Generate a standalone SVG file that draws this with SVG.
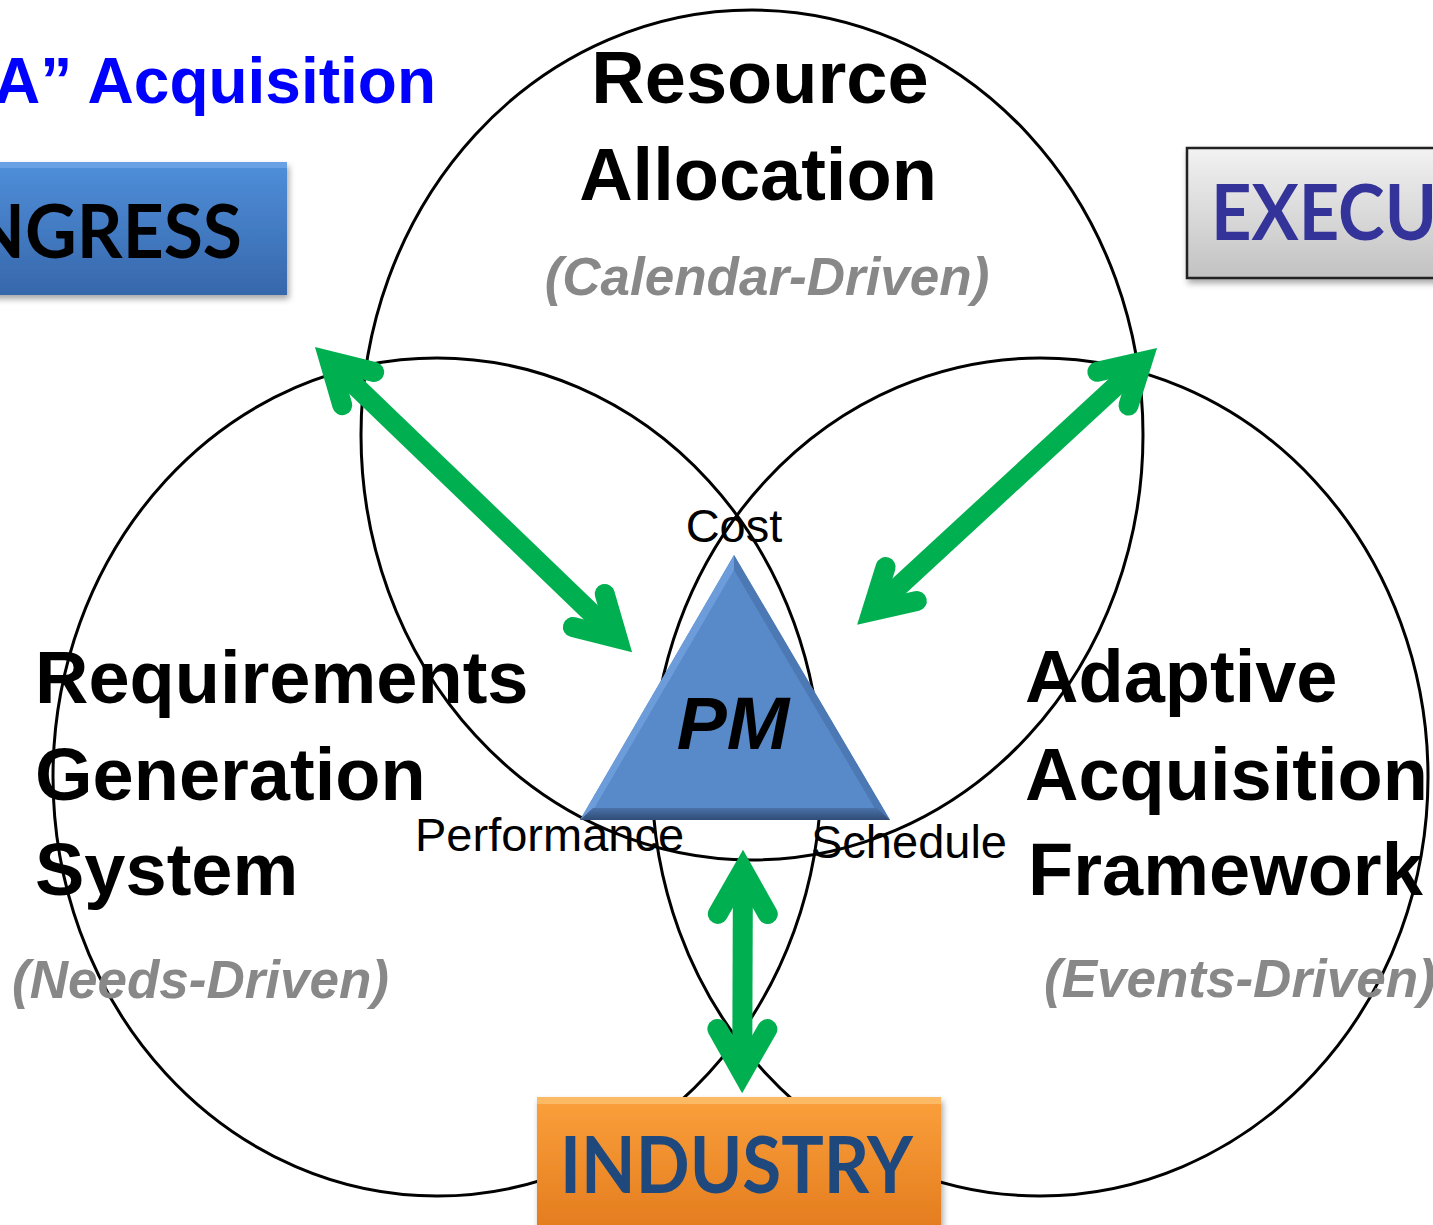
<svg xmlns="http://www.w3.org/2000/svg" width="1433" height="1225" viewBox="0 0 1433 1225">
<defs>
<linearGradient id="gBlue" x1="0" y1="0" x2="0" y2="1">
<stop offset="0" stop-color="#4F8FDA"/>
<stop offset="1" stop-color="#3767AB"/>
</linearGradient>
<linearGradient id="gGray" x1="0" y1="0" x2="0" y2="1">
<stop offset="0" stop-color="#F2F2F2"/>
<stop offset="1" stop-color="#C2C2C2"/>
</linearGradient>
<linearGradient id="gOrange" x1="0" y1="0" x2="0" y2="1">
<stop offset="0" stop-color="#FBA03C"/>
<stop offset="1" stop-color="#E27A1C"/>
</linearGradient>
<linearGradient id="gBottom" x1="0" y1="0" x2="0" y2="1">
<stop offset="0" stop-color="#4A72A8"/>
<stop offset="1" stop-color="#2F4C75"/>
</linearGradient>
<filter id="shadow" x="-10%" y="-10%" width="130%" height="140%">
<feDropShadow dx="2" dy="4" stdDeviation="3" flood-color="#000" flood-opacity="0.35"/>
</filter>
</defs>
<style>
.ring{fill:none;stroke:#000;stroke-width:3}
.head{fill:none;stroke:#00B050;stroke-width:20;stroke-linecap:round;stroke-linejoin:miter;stroke-miterlimit:6}
.shaft{fill:none;stroke:#00B050;stroke-width:20;stroke-linecap:butt}
.big{font-family:"Liberation Sans",Arial,sans-serif;font-weight:bold;font-size:74px;fill:#000}
.sub{font-family:"Liberation Sans",Arial,sans-serif;font-weight:bold;font-style:italic;font-size:53px;fill:#888}
.small{font-family:"Liberation Sans",Arial,sans-serif;font-size:47px;fill:#000}
.boxtxt{font-family:Lato,"Open Sans",sans-serif;font-weight:bold}
</style>

<g id="title">
<text x="436" y="103" text-anchor="end" font-family="Liberation Sans, Arial, sans-serif" font-weight="bold" font-size="64" fill="#0000FF">A” Acquisition</text>
</g>

<g id="congress">
<rect x="-10" y="162" width="297" height="133" fill="url(#gBlue)" filter="url(#shadow)"/>
<rect x="-10" y="162" width="297" height="6" fill="#6FA6E6" opacity="0.8"/>
<text class="boxtxt" x="-30" y="258" font-size="74" fill="#000" textLength="272" lengthAdjust="spacingAndGlyphs">NGRESS</text>
</g>

<g id="executive">
<rect x="1187" y="148" width="262" height="130" fill="url(#gGray)" stroke="#222" stroke-width="2.5" filter="url(#shadow)"/>
<text class="boxtxt" x="1211" y="240" font-size="76" fill="#333399" textLength="226" lengthAdjust="spacingAndGlyphs">EXECU</text>
</g>

<g id="circles">
<ellipse id="resource-circle" class="ring" cx="752" cy="435" rx="391" ry="425"/>
<ellipse id="requirements-circle" class="ring" cx="437" cy="777" rx="384" ry="419"/>
<ellipse id="adaptive-circle" class="ring" cx="1040" cy="777" rx="388" ry="419"/>
</g>

<g id="resource-allocation">
<text class="big" x="760" y="103" text-anchor="middle">Resource</text>
<text class="big" x="758" y="200" text-anchor="middle">Allocation</text>
<text class="sub" x="767" y="295" text-anchor="middle">(Calendar-Driven)</text>
</g>

<g id="requirements">
<text class="big" x="35" y="703">Requirements</text>
<text class="big" x="35" y="800">Generation</text>
<text class="big" x="35" y="895">System</text>
<text class="sub" x="12" y="998">(Needs-Driven)</text>
</g>

<g id="adaptive">
<text class="big" x="1025" y="702">Adaptive</text>
<text class="big" x="1025" y="800">Acquisition</text>
<text class="big" x="1028" y="895">Framework</text>
<text class="sub" x="1044" y="997">(Events-Driven)</text>
</g>

<g id="pm">
<polygon points="734,555 580,820 890,820" fill="#5889C9"/>
<polygon points="734,555 580,820 592,812 734,570" fill="#6C9CDA"/>
<polygon points="734,555 734,570 877,812 890,820" fill="#4C79B4"/>
<polygon points="580,820 890,820 877,808 593,808" fill="url(#gBottom)"/>
<text x="733" y="749" text-anchor="middle" font-family="Liberation Sans, Arial, sans-serif" font-weight="bold" font-style="italic" font-size="75" fill="#000">PM</text>
</g>

<g id="pm-labels">
<text class="small" x="734" y="542" text-anchor="middle">Cost</text>
<text class="small" x="415" y="851">Performance</text>
<text class="small" x="811" y="858">Schedule</text>
</g>

<g id="connectors">
<g transform="translate(315,347) rotate(43.9)">
<path class="shaft" d="M20,0 H420"/>
<path class="head" d="M60,-23 L20,0 L60,23"/>
<path class="head" d="M380,-23 L420,0 L380,23"/>
</g>
<g transform="translate(1157,348) rotate(137.3)">
<path class="shaft" d="M20,0 H388"/>
<path class="head" d="M60,-23 L20,0 L60,23"/>
<path class="head" d="M348,-23 L388,0 L348,23"/>
</g>
<g transform="translate(743,850) rotate(90.2)">
<path class="shaft" d="M20,0 H223" stroke-width="18"/>
<path class="head" d="M64,-25 L20,0 L64,25"/>
<path class="head" d="M179,-25 L223,0 L179,25"/>
</g>
</g>

<g id="industry">
<rect x="537" y="1097" width="404" height="140" fill="url(#gOrange)" filter="url(#shadow)"/>
<rect x="537" y="1097" width="404" height="7" fill="#FDC070" opacity="0.8"/>
<text class="boxtxt" x="560" y="1193" font-size="78" fill="#1F497D" textLength="353" lengthAdjust="spacingAndGlyphs">INDUSTRY</text>
</g>
</svg>
